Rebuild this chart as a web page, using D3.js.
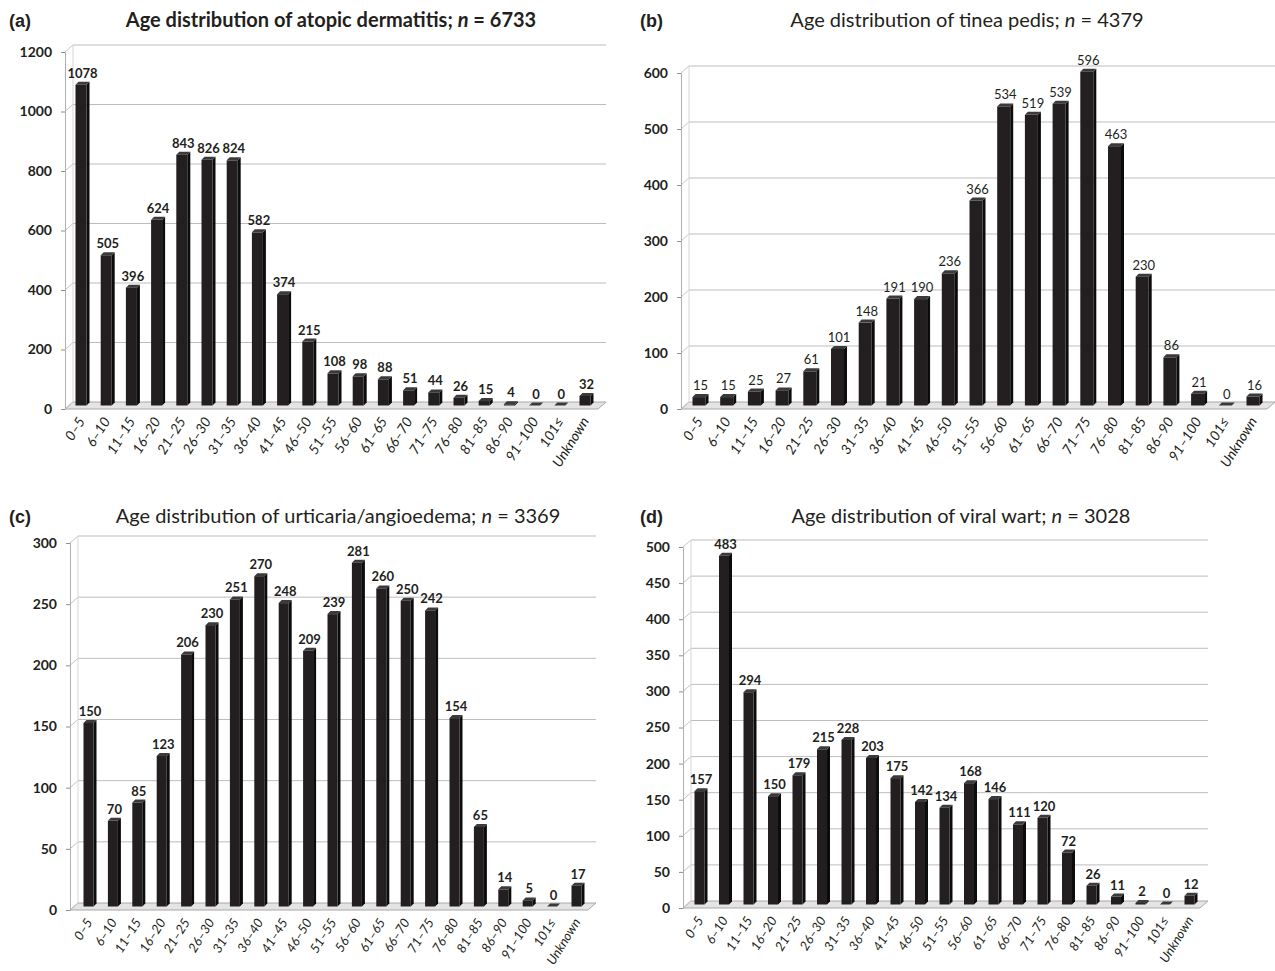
<!DOCTYPE html>
<html>
<head>
<meta charset="utf-8">
<script src="https://cdn.jsdelivr.net/npm/d3@7"></script>
<style>
  body { margin: 0; background: #fff; }
  svg { display: block; }
  text { font-family: Lato, "Liberation Sans", sans-serif; fill: #231f20; }
</style>
</head>
<body>
<div id="chart"></div>
<script>
// age groups shared by all four panels
const ageGroups = ['0–5', '6–10', '11–15', '16–20', '21–25', '26–30', '31–35', '36–40', '41–45',
  '46–50', '51–55', '56–60', '61–65', '66–70', '71–75', '76–80', '81–85', '86–90', '91–100', '101≤', 'Unknown']

const atopicDermatitis = [1078, 505, 396, 624, 843, 826, 824, 582, 374, 215, 108, 98, 88, 51, 44, 26, 15, 4, 0, 0, 32]
const tineaPedis = [15, 15, 25, 27, 61, 101, 148, 191, 190, 236, 366, 534, 519, 539, 596, 463, 230, 86, 21, 0, 16]
const urticaria = [150, 70, 85, 123, 206, 230, 251, 270, 248, 209, 239, 281, 260, 250, 242, 154, 65, 14, 5, 0, 17]
const viralWart = [157, 483, 294, 150, 179, 215, 228, 203, 175, 142, 134, 168, 146, 111, 120, 72, 26, 11, 2, 0, 12]

const ticksA = [0, 200, 400, 600, 800, 1000, 1200]
const ticksB = [0, 100, 200, 300, 400, 500, 600]
const ticksC = [0, 50, 100, 150, 200, 250, 300]
const ticksD = [0, 50, 100, 150, 200, 250, 300, 350, 400, 450, 500]

const diseases = ['atopic dermatitis', 'tinea pedis', 'urticaria/angioedema', 'viral wart']
const totals = [6733, 4379, 3369, 3028]
const panelTags = ['(a)', '(b)', '(c)', '(d)']

const width = 1275
const height = 971
const dx = 8, dy = 7   // depth of the 3-D walls

const svg = d3.select('#chart').append('svg')
  .attr('width', width)
  .attr('height', height)

const drawPanel = (p) => {
  const g = svg.append('g')

  const y = d3.scaleLinear()
    .domain([0, d3.max(p.ticks)])
    .range([p.y0, p.yTop])

  const pad = 1 - p.barW / p.step
  const x = d3.scaleBand()
    .domain(ageGroups)
    .range([p.first - p.step / 2, p.first - p.step / 2 + ageGroups.length * p.step])
    .paddingInner(pad)
    .paddingOuter(pad / 2)

  // floor
  g.append('path')
    .attr('d', `M${p.axisX},${p.y0}L${p.gridEnd - dx},${p.y0}L${p.gridEnd},${p.y0 - dy}L${p.axisX + dx},${p.y0 - dy}Z`)
    .attr('fill', '#e4e4e4')
    .attr('stroke', '#a8a8a8')

  // back wall gridlines and wall edges
  g.selectAll('.grid')
    .data(p.ticks.filter(t => t > 0))
    .enter()
    .append('line')
    .attr('x1', p.axisX + dx)
    .attr('x2', p.gridEnd)
    .attr('y1', d => y(d) - dy)
    .attr('y2', d => y(d) - dy)
    .attr('stroke', '#bdbdbd')

  g.selectAll('.diag')
    .data(p.ticks)
    .enter()
    .append('line')
    .attr('x1', p.axisX)
    .attr('x2', p.axisX + dx)
    .attr('y1', d => y(d))
    .attr('y2', d => y(d) - dy)
    .attr('stroke', '#c4c4c4')

  g.append('line')
    .attr('x1', p.axisX + dx).attr('x2', p.axisX + dx)
    .attr('y1', p.y0 - dy).attr('y2', y(d3.max(p.ticks)) - dy)
    .attr('stroke', '#d6d6d6')

  // y axis
  const axis = g.append('g')
    .attr('transform', `translate(${p.axisX},0)`)
    .call(d3.axisLeft(y).tickValues(p.ticks).tickFormat(d3.format('d')).tickSize(4).tickPadding(9))
  axis.select('.domain').attr('stroke', '#b0b0b0')
  axis.selectAll('.tick line').attr('stroke', '#909090')
  axis.selectAll('.tick text')
    .style('font', 'bold 14px Lato, sans-serif')
    .attr('fill', '#231f20')

  // bars: front, side and top faces
  const bars = g.selectAll('.bar')
    .data(p.values)
    .enter()
    .append('g')

  const bx = (_, i) => x(ageGroups[i])
  const top = d => y(d) - dy / 2
  const bottom = p.y0 - dy / 2
  const w = x.bandwidth() - 3

  bars.append('path')
    .attr('d', (d, i) => {
      const x0 = bx(d, i), t = top(d)
      return `M${x0 + w},${t}L${x0 + w + 3},${t - 3}L${x0 + w + 3},${bottom - 3}L${x0 + w},${bottom}Z`
    })
    .attr('fill', '#0c0c0c')
  bars.append('path')
    .attr('d', (d, i) => {
      const x0 = bx(d, i), t = top(d)
      return `M${x0},${t}L${x0 + 3},${t - 3}L${x0 + w + 3},${t - 3}L${x0 + w},${t}Z`
    })
    .attr('fill', '#3a3a3a')
  bars.append('rect')
    .attr('x', bx)
    .attr('y', top)
    .attr('width', w)
    .attr('height', d => bottom - top(d))
    .attr('fill', '#231f20')

  // value labels
  g.selectAll('.val')
    .data(p.values)
    .enter()
    .append('text')
    .attr('x', (d, i) => x(ageGroups[i]) + x.bandwidth() / 2)
    .attr('y', d => top(d) - 7)
    .attr('text-anchor', 'middle')
    .style('font', `${p.valueWeight} 13px Lato, sans-serif`)
    .text(d => d)

  // category labels
  g.selectAll('.cat')
    .data(ageGroups)
    .enter()
    .append('text')
    .attr('transform', d => `translate(${x(d) + x.bandwidth() / 2 + 3},${p.y0 + 12}) rotate(-58)`)
    .attr('text-anchor', 'end')
    .style('font', `italic ${p.catSize}px Lato, sans-serif`)
    .text(d => d)

  // title
  const title = g.append('text')
    .attr('x', p.titleX)
    .attr('y', p.titleY)
    .attr('text-anchor', 'middle')
    .style('font', `${p.titleWeight} 20px Lato, sans-serif`)
  title.append('tspan').text(`Age distribution of ${p.disease}; `)
  title.append('tspan').style('font-style', 'italic').text('n')
  title.append('tspan').text(` = ${p.total}`)

  g.append('text')
    .attr('x', p.tagX)
    .attr('y', p.titleY)
    .style('font', 'bold 18px "Liberation Sans", Arial, sans-serif')
    .text(p.tag)
}

drawPanel({ values: atopicDermatitis, ticks: ticksA, disease: diseases[0], total: totals[0], tag: panelTags[0],
  axisX: 65, y0: 409, yTop: 52, first: 82.5, step: 25.2, barW: 14, gridEnd: 606, catSize: 14,
  titleX: 331, titleY: 27, tagX: 9, titleWeight: 'bold', valueWeight: 'bold' })

drawPanel({ values: tineaPedis, ticks: ticksB, disease: diseases[1], total: totals[1], tag: panelTags[1],
  axisX: 681, y0: 409, yTop: 73, first: 700.5, step: 27.7, barW: 16, gridEnd: 1275, catSize: 14,
  titleX: 967, titleY: 27, tagX: 640, titleWeight: 'normal', valueWeight: 'normal' })

drawPanel({ values: urticaria, ticks: ticksC, disease: diseases[2], total: totals[2], tag: panelTags[2],
  axisX: 70, y0: 910, yTop: 543, first: 90, step: 24.4, barW: 13, gridEnd: 596, catSize: 13,
  titleX: 338, titleY: 523, tagX: 9, titleWeight: 'normal', valueWeight: 'bold' })

drawPanel({ values: viralWart, ticks: ticksD, disease: diseases[3], total: totals[3], tag: panelTags[3],
  axisX: 683, y0: 908, yTop: 547, first: 701, step: 24.5, barW: 13, gridEnd: 1208, catSize: 13,
  titleX: 961, titleY: 523, tagX: 640, titleWeight: 'normal', valueWeight: 'bold' })
</script>
</body>
</html>
